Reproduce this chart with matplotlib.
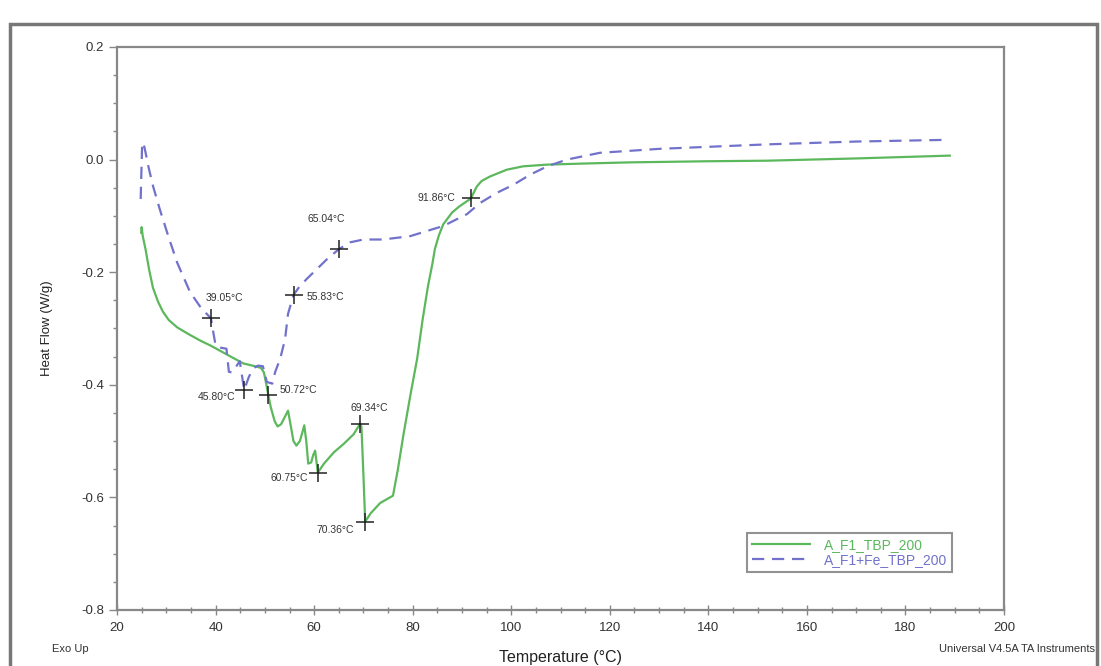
import matplotlib.pyplot as plt
from matplotlib.patches import Rectangle

plt.rcParams['font.family'] = ['Liberation Sans', 'DejaVu Sans']

# A_F1_TBP_200 (green, solid)
temp_a = [24.9, 25.0, 25.2, 25.8, 26.5, 27.3, 28.3, 29.3, 30.5, 32.2, 34.5, 37.0,
          38.9, 41.0, 43.5, 45.6, 47.0, 48.4, 49.2, 49.8, 50.2, 50.72, 51.2, 52.0,
          52.6, 53.3, 54.0, 54.7, 55.2, 55.8, 56.4, 57.1, 57.6, 58.0, 58.4, 58.8,
          59.4, 59.8, 60.2, 60.75, 62.0, 64.0, 66.0, 68.0, 69.34, 69.6, 70.0, 70.36,
          71.5, 73.4, 75.0, 76.0, 77.0, 78.1, 79.5, 80.9, 82.0, 83.1, 84.0, 84.5,
          85.3, 86.2, 88.0, 89.5, 91.0, 91.86, 92.2, 93.0, 94.0, 95.7, 99.1, 102.4,
          107.3, 115, 124, 140, 152, 170, 189]
hf_a = [-0.13, -0.12, -0.135, -0.16, -0.195, -0.228, -0.252, -0.27, -0.285, -0.298, -0.31, -0.322,
        -0.33, -0.34, -0.352, -0.362, -0.365, -0.368, -0.37, -0.378, -0.395, -0.419, -0.44, -0.465,
        -0.474, -0.47, -0.458, -0.446, -0.47, -0.5, -0.508, -0.5, -0.485, -0.472, -0.5, -0.54,
        -0.538, -0.525, -0.517, -0.556, -0.54, -0.52, -0.505, -0.488, -0.469, -0.475, -0.56, -0.643,
        -0.628, -0.61, -0.602, -0.597, -0.55, -0.49, -0.42, -0.354, -0.285, -0.225, -0.185, -0.159,
        -0.135, -0.115, -0.094, -0.083, -0.074, -0.069, -0.062, -0.048, -0.038, -0.030, -0.018, -0.012,
        -0.009, -0.007, -0.005, -0.003, -0.002, 0.002, 0.007]

# A_F1+Fe_TBP_200 (blue, dashed)
temp_b = [24.8, 25.1, 25.4, 25.8, 26.3, 27.3, 28.7, 30.4, 32.2, 34.8, 37.0, 39.05,
          39.5, 40.0, 41.0, 42.2, 42.7, 43.3, 44.0, 44.9, 45.8, 46.8, 47.8, 48.6,
          49.6, 50.4, 51.5, 52.1, 53.1, 54.1, 54.7, 55.83, 57.0, 58.5, 60.5, 62.6,
          65.04, 67.3, 70.0, 74.0, 79.5, 86.2, 91.0, 93.7, 97.1, 100.4, 103.8, 107.3,
          111.3, 118, 130, 152, 170, 188.4]
hf_b = [-0.07, 0.03, 0.028, 0.012, -0.01, -0.047, -0.089, -0.136, -0.183, -0.235, -0.263, -0.282,
        -0.305, -0.33, -0.334, -0.336, -0.377, -0.378, -0.37, -0.358, -0.409, -0.385, -0.37, -0.366,
        -0.367, -0.395, -0.398, -0.377, -0.354, -0.319, -0.274, -0.24, -0.226, -0.212, -0.195, -0.177,
        -0.159, -0.147, -0.142, -0.142, -0.136, -0.118, -0.097, -0.077, -0.059, -0.045, -0.027, -0.012,
        0.0, 0.012, 0.019, 0.027, 0.032, 0.035]

# marked points
mark_t = [39.05, 45.80, 50.72, 55.83, 65.04, 60.75, 69.34, 70.36, 91.86]
mark_hf = [-0.282, -0.409, -0.419, -0.24, -0.159, -0.556, -0.469, -0.643, -0.069]
mark_labels = ['39.05°C', '45.80°C', '50.72°C', '55.83°C', '65.04°C',
               '60.75°C', '69.34°C', '70.36°C', '91.86°C']
label_offsets = [(10, 15), (-6, -5), (8, 4), (9, -1.5), (-9, 22),
                 (-7, -4), (6.5, 11), (-8, -6), (-11, 0)]
label_ha = ['center', 'right', 'left', 'left', 'center',
            'right', 'center', 'right', 'right']

green = '#5cb85c'
blue = '#7272cc'
frame = '#888888'

fig = plt.figure(figsize=(11.01, 6.66), dpi=100)
ax = fig.add_axes([0.1063, 0.0841, 0.8056, 0.8454])

ax.plot(temp_a, hf_a, color=green, lw=1.6, label='A_F1_TBP_200')
ax.plot(temp_b, hf_b, color=blue, lw=1.6, ls=(0, (5.5, 3.5)), label='A_F1+Fe_TBP_200')

ax.plot(mark_t, mark_hf, ls='none', marker='+', ms=13, mew=1.1, color='#222222')
for t, h, s, off, ha in zip(mark_t, mark_hf, mark_labels, label_offsets, label_ha):
    ax.annotate(s, (t, h), xytext=off, textcoords='offset points',
                ha=ha, va='center', fontsize=7.5, color='#333333')

ax.set_xlim(20, 200)
ax.set_ylim(-0.8, 0.2)
ax.set_xticks(range(20, 201, 20))
ax.set_xticks(range(20, 201, 5), minor=True)
ax.set_yticks([-0.8, -0.6, -0.4, -0.2, 0.0, 0.2])
ax.set_yticks([i * 0.05 - 0.8 for i in range(21)], minor=True)
ax.set_yticklabels(['-0.8', '-0.6', '-0.4', '-0.2', '0.0', '0.2'])

for sp in ax.spines.values():
    sp.set_color(frame)
    sp.set_linewidth(1.6)
ax.tick_params(axis='both', which='both', colors=frame, labelcolor='#333333', labelsize=9.5)
ax.tick_params(axis='x', which='major', direction='inout', length=7, width=1, pad=5)
ax.tick_params(axis='x', which='minor', direction='inout', length=4, width=1)
ax.tick_params(axis='y', which='major', direction='out', length=6, width=1)
ax.tick_params(axis='y', which='minor', direction='out', length=3, width=1)

ax.set_xlabel('Temperature (°C)', fontsize=11.5, color='#222222', labelpad=12)
ax.set_ylabel('Heat Flow (W/g)', fontsize=9.5, color='#222222', labelpad=20)

leg = ax.legend(loc='upper left', bbox_to_anchor=(0.71, 0.137), fontsize=10,
                frameon=True, fancybox=False, handlelength=4.2, labelspacing=0.1,
                borderpad=0.35, handletextpad=1.0, borderaxespad=0)
leg.get_frame().set_edgecolor('#777777')
leg.get_frame().set_linewidth(1.5)
for txt, c in zip(leg.get_texts(), [green, blue]):
    txt.set_color(c)

fig.text(0.047, 0.021, 'Exo Up', fontsize=8, color='#333333', ha='left')
fig.text(0.995, 0.021, 'Universal V4.5A TA Instruments', fontsize=8, color='#333333', ha='right')

fig.patches.append(Rectangle((0.009, -0.1), 0.987, 1.064, transform=fig.transFigure,
                             fill=False, edgecolor='#777777', lw=2.5))

fig.savefig('out.png', dpi=100)
